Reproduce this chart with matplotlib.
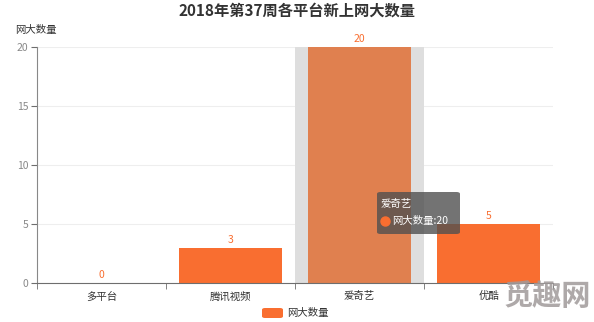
import matplotlib.pyplot as plt
import numpy as np
from matplotlib.patches import FancyBboxPatch

plt.rcParams['font.family'] = ['Noto Sans CJK SC', 'DejaVu Sans']

platforms = ["多平台", "腾讯视频", "爱奇艺", "优酷"]
counts = [0, 3, 20, 5]
series_name = "网大数量"
title = "2018年第37周各平台新上网大数量"
hover_idx = 2

bar_color = "#f96e30"
hover_color = "#e0804f"
axis_grey = "#6e6e6e"

fig = plt.figure(figsize=(5.94, 3.22), dpi=100)
ax = fig.add_axes([37 / 594, 1 - 283 / 322, 516 / 594, 236 / 322])

x = np.arange(len(platforms))
# hover shadow behind the highlighted category
ax.bar(x[hover_idx], 20, width=1.0, color="#dedede", zorder=1)
colors = [hover_color if i == hover_idx else bar_color for i in range(len(platforms))]
ax.bar(x, counts, width=0.8, color=colors, zorder=2)

for xi, v in zip(x, counts):
    ax.annotate(str(v), (xi, v), xytext=(0, 2), textcoords="offset points",
                ha="center", va="bottom", fontsize=7.5, color=bar_color)

ax.set_xlim(-0.5, len(platforms) - 0.5)
ax.set_ylim(0, 20)
ax.set_yticks([0, 5, 10, 15, 20])
ax.set_xticks(x)
ax.set_xticklabels(platforms, fontsize=7.5, color="#333333")
ax.set_xticks(np.arange(-0.5, len(platforms)), minor=True)
ax.tick_params(axis="x", which="major", length=0, pad=6)
ax.tick_params(axis="x", which="minor", length=4, color=axis_grey)
ax.tick_params(axis="y", length=4, color=axis_grey, labelsize=7.5, labelcolor="#888888", pad=2)
ax.grid(axis="y", color="#eeeeee", linewidth=0.8, zorder=0)
ax.set_axisbelow(True)
for s in ["top", "right"]:
    ax.spines[s].set_visible(False)
ax.spines["left"].set_color("#888888")
ax.spines["bottom"].set_color(axis_grey)

fig.text(0.5, 1 - 11 / 322, title, ha="center", va="center", fontsize=11,
         fontweight="bold", color="#333333")
fig.text(15 / 594, 1 - 30 / 322, series_name, ha="left", va="center", fontsize=7.5,
         color="#333333")

# tooltip
tip = FancyBboxPatch((377 / 594, 1 - 234 / 322), 83 / 594, 42 / 322,
                     boxstyle="round,pad=0,rounding_size=0.006",
                     transform=fig.transFigure, facecolor="#505050", alpha=0.8,
                     edgecolor="none", zorder=10)
fig.patches.append(tip)
fig.text(381 / 594, 1 - 204 / 322, platforms[hover_idx], fontsize=7.5, color="white",
         va="center", zorder=11)
fig.add_artist(plt.Line2D([385 / 594], [1 - 221 / 322], marker="o", markersize=6.5,
                          color=bar_color, transform=fig.transFigure, zorder=11))
fig.text(392 / 594, 1 - 221 / 322, f"{series_name}:{counts[hover_idx]}", fontsize=7.5,
         color="white", va="center", zorder=11)

# legend
leg = FancyBboxPatch((262 / 594, 1 - 318 / 322), 21 / 594, 10 / 322,
                     boxstyle="round,pad=0,rounding_size=0.005",
                     transform=fig.transFigure, facecolor=bar_color, edgecolor="none")
fig.patches.append(leg)
fig.text(287 / 594, 1 - 313 / 322, series_name, fontsize=7.5, color="#333333", va="center")

# watermark
fig.text(591 / 594, 1 - 296 / 322, "觅趣网", fontsize=21, fontweight="heavy",
         color="#a09a9a", alpha=0.85, ha="right", va="center")

fig.savefig("out.png", dpi=100)
